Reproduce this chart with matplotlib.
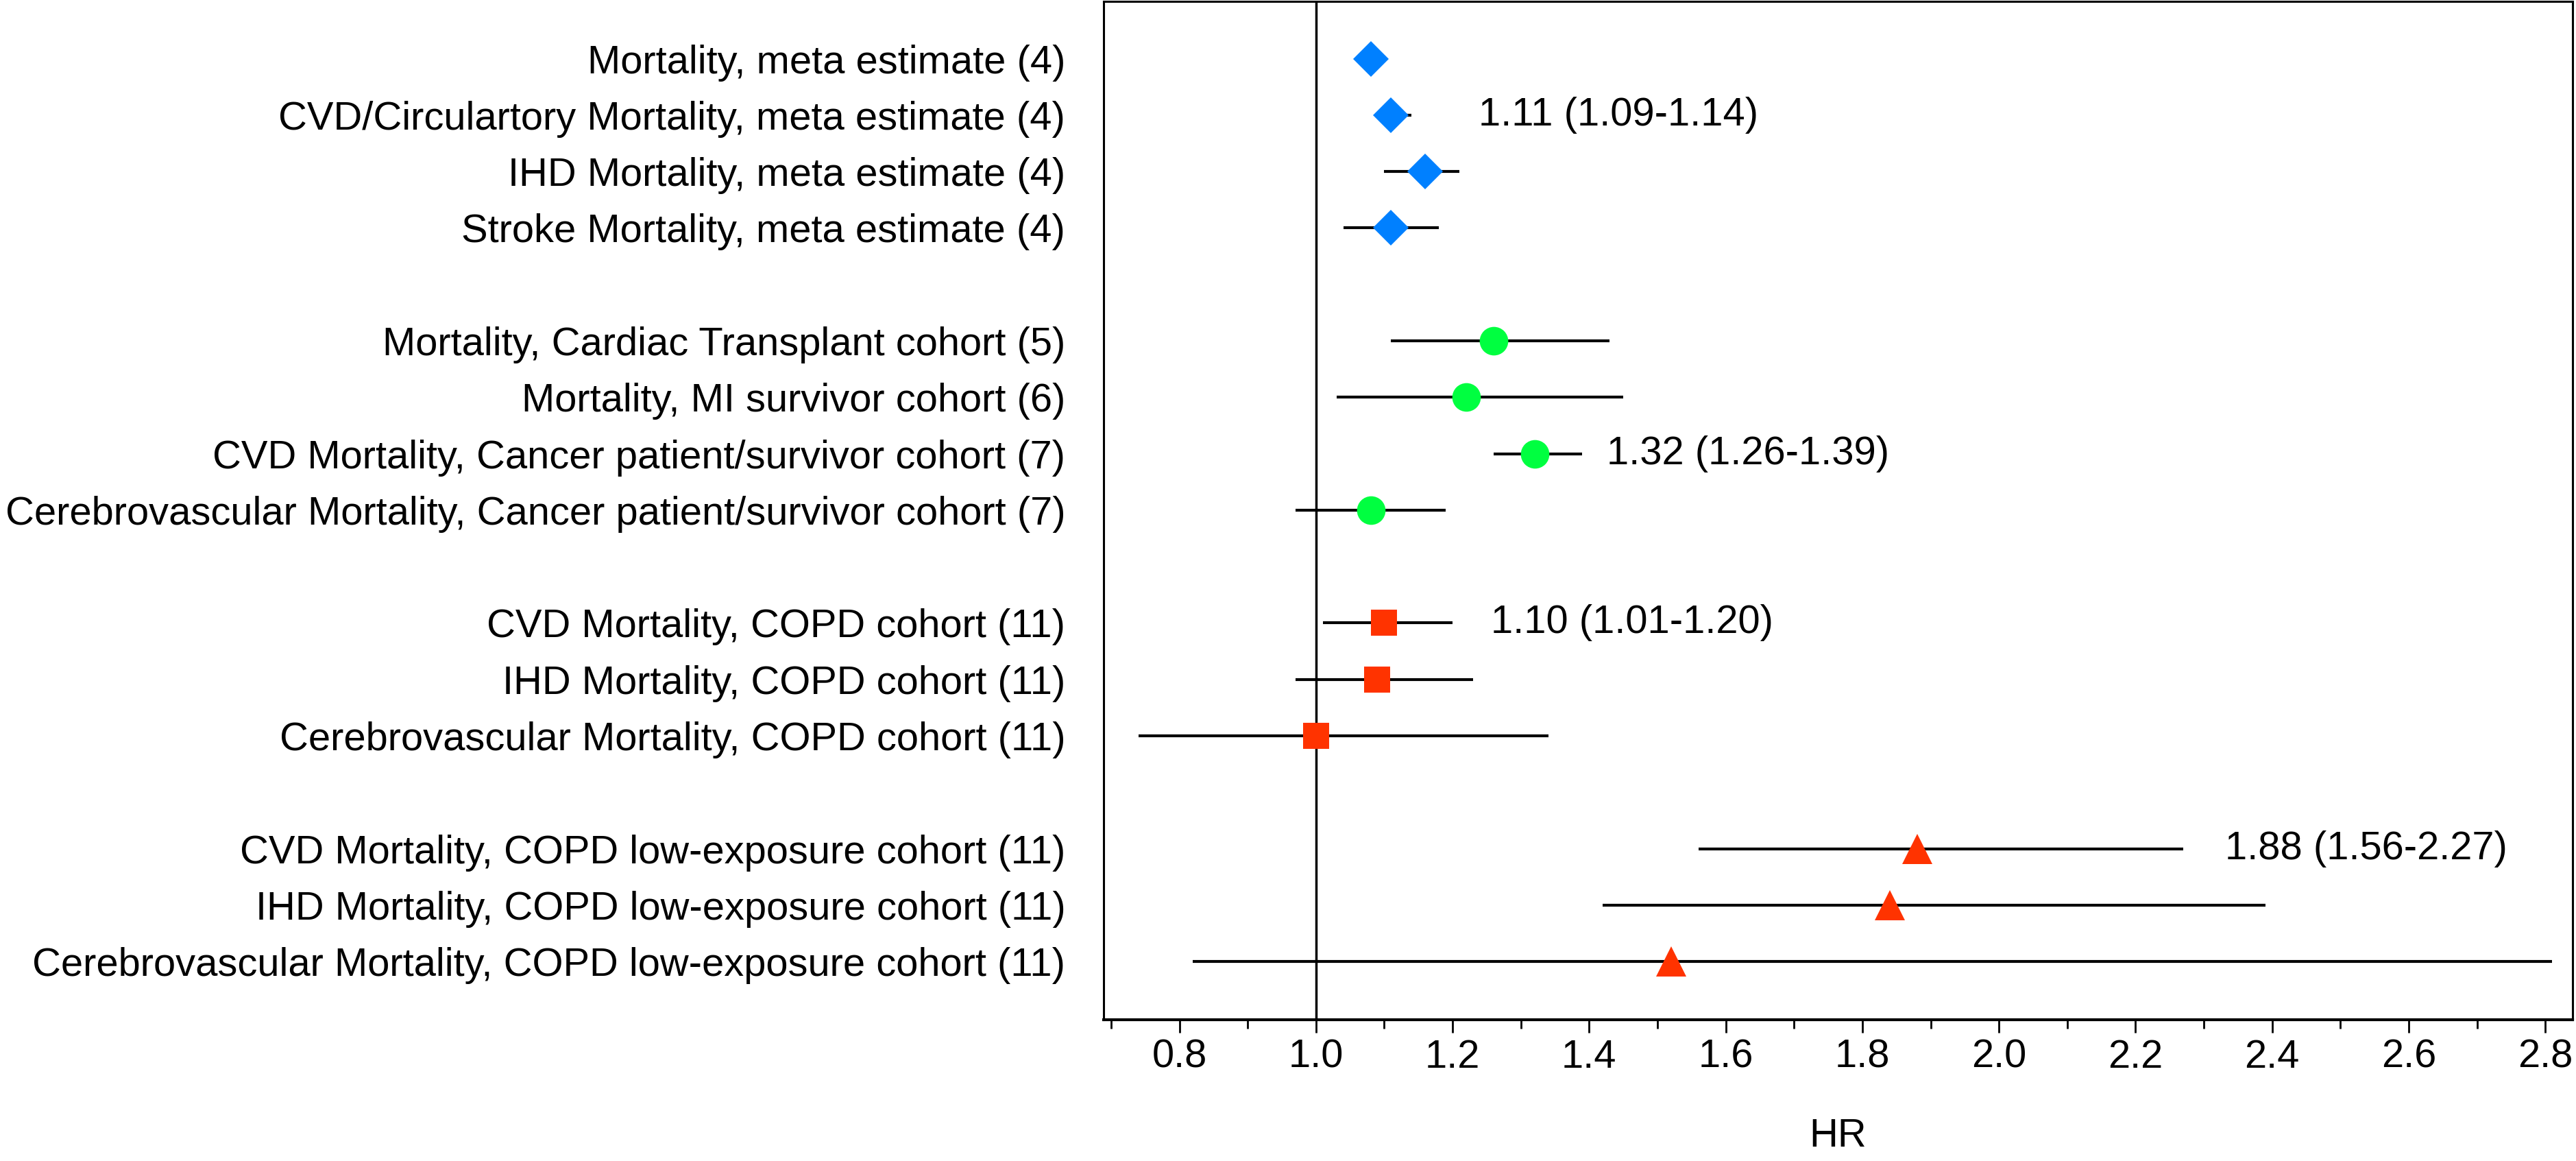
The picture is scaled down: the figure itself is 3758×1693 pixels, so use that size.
import matplotlib.pyplot as plt
from matplotlib.ticker import MultipleLocator

plt.rcParams['font.family'] = ['Liberation Sans', 'DejaVu Sans']

# outcome labels, top to bottom (None = blank gap row)
labels = [
    'Mortality, meta estimate (4)',
    'CVD/Circulartory Mortality, meta estimate (4)',
    'IHD Mortality, meta estimate (4)',
    'Stroke Mortality, meta estimate (4)',
    None,
    'Mortality, Cardiac Transplant cohort (5)',
    'Mortality, MI survivor cohort (6)',
    'CVD Mortality, Cancer patient/survivor cohort (7)',
    'Cerebrovascular Mortality, Cancer patient/survivor cohort (7)',
    None,
    'CVD Mortality, COPD cohort (11)',
    'IHD Mortality, COPD cohort (11)',
    'Cerebrovascular Mortality, COPD cohort (11)',
    None,
    'CVD Mortality, COPD low-exposure cohort (11)',
    'IHD Mortality, COPD low-exposure cohort (11)',
    'Cerebrovascular Mortality, COPD low-exposure cohort (11)',
]

hr = [1.08, 1.11, 1.16, 1.11, None,
      1.26, 1.22, 1.32, 1.08, None,
      1.10, 1.09, 1.00, None,
      1.88, 1.84, 1.52]
lo = [1.07, 1.09, 1.10, 1.04, None,
      1.11, 1.03, 1.26, 0.97, None,
      1.01, 0.97, 0.74, None,
      1.56, 1.42, 0.82]
hi = [1.09, 1.14, 1.21, 1.18, None,
      1.43, 1.45, 1.39, 1.19, None,
      1.20, 1.23, 1.34, None,
      2.27, 2.39, 2.81]

# group of each row -> marker style
groups = ['meta'] * 4 + [None] + ['cohort'] * 4 + [None] + ['copd'] * 3 + [None] + ['lowexp'] * 3
styles = {
    'meta': dict(marker='D', color='#0080ff', ms=26),
    'cohort': dict(marker='o', color='#00ff40', ms=30),
    'copd': dict(marker='s', color='#ff3300', ms=28),
    'lowexp': dict(marker='^', color='#ff3300', ms=31),
}

# annotated rows: row index, text, x position of text
notes = [(1, '1.11 (1.09-1.14)', 1.238),
         (7, '1.32 (1.26-1.39)', 1.426),
         (10, '1.10 (1.01-1.20)', 1.256),
         (14, '1.88 (1.56-2.27)', 2.331)]

FS = 41.7

fig = plt.figure(figsize=(37.58, 16.93), dpi=100)
ax = fig.add_axes([0.4284, 0.1217, 0.5703, 0.8773])

ax.axvline(1.0, color='black', lw=2.5, zorder=1)

for i in range(len(labels)):
    if hr[i] is None:
        continue
    ax.plot([lo[i], hi[i]], [i, i], color='black', lw=3, solid_capstyle='butt', zorder=2)
    st = styles[groups[i]]
    ax.plot(hr[i], i, linestyle='none', marker=st['marker'], color=st['color'],
            ms=st['ms'], markeredgewidth=0, zorder=3)

for row, txt, x in notes:
    ax.text(x, row, txt, fontsize=FS, va='center', ha='left')

ticks = [i for i in range(len(labels)) if labels[i] is not None]
ax.set_yticks(ticks)
ax.set_yticklabels([labels[i] for i in ticks], fontsize=FS)
ax.tick_params(axis='y', length=0, pad=40)

ax.set_xlim(0.689, 2.84)
ax.set_ylim(17.03, -1.02)
ax.xaxis.set_minor_locator(MultipleLocator(0.1))
ax.set_xticks([0.8, 1.0, 1.2, 1.4, 1.6, 1.8, 2.0, 2.2, 2.4, 2.6, 2.8])
ax.set_xticklabels(['0.8', '1.0', '1.2', '1.4', '1.6', '1.8', '2.0', '2.2', '2.4', '2.6', '2.8'])
ax.tick_params(axis='x', which='major', length=14, width=2, labelsize=FS, pad=6)
ax.tick_params(axis='x', which='minor', length=9, width=2)
ax.set_xlabel('HR', fontsize=FS, labelpad=44)

for s in ['left', 'right', 'top']:
    ax.spines[s].set_linewidth(2.2)
ax.spines['bottom'].set_linewidth(3)

fig.savefig('out.png', dpi=100)
